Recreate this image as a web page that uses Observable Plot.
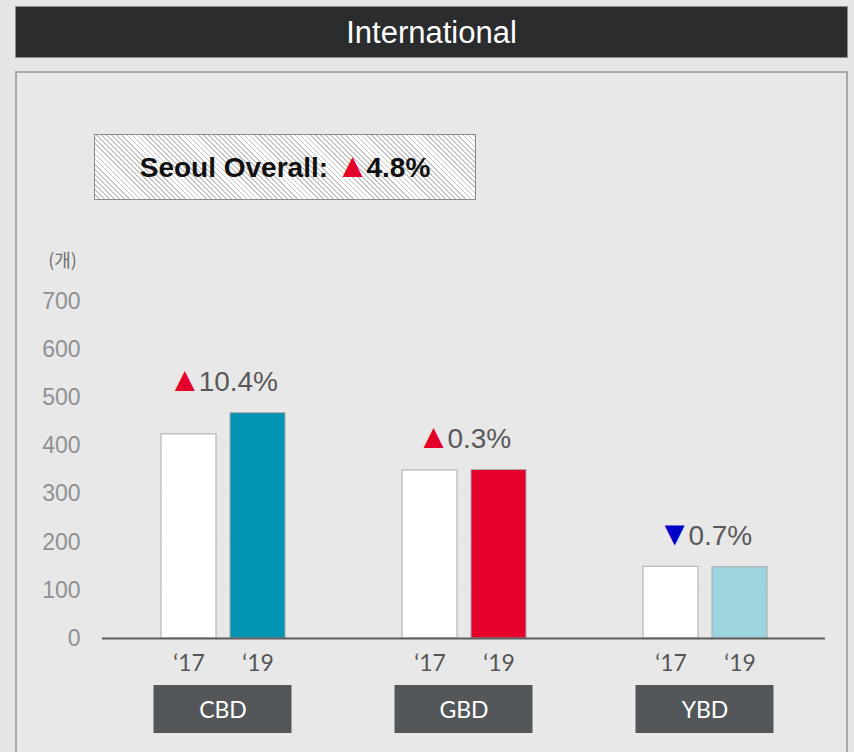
<!DOCTYPE html>
<html>
<head>
<meta charset="utf-8">
<script src="https://cdn.jsdelivr.net/npm/d3@7"></script>
<script src="https://cdn.jsdelivr.net/npm/@observablehq/plot@0.6"></script>
<style>
  html, body { margin: 0; padding: 0; }
  body { width: 854px; height: 752px; background: #e6e6e6; position: relative; overflow: hidden;
         font-family: "Liberation Sans", Arial, sans-serif; }
  #titlebar { position: absolute; left: 15px; top: 6px; width: 831px; height: 50px; background: #2b2c2e;
              border: 1px solid #8c8c8c; color: #fff; font-size: 31px; text-align: center; line-height: 52px; }
  #panel { position: absolute; left: 15px; top: 71px; width: 829px; height: 700px; background: #e8e8e8;
           border: 2px solid #a8a8a8; }
  #overall { position: absolute; left: 94px; top: 134px; width: 380px; height: 64px; border: 1px solid #8a8a8a;
             background: repeating-linear-gradient(45deg, #ffffff 0px, #ffffff 2.4px, #c6c6c6 2.4px, #c6c6c6 3.6px);
             font-weight: bold; font-size: 28px; text-align: center; line-height: 66px; color: #111; }
  #overall .arrow { font-size: 34px; line-height: 20px; margin-right: -3px; }
  #chart { position: absolute; left: 0; top: 240px; }
</style>
</head>
<body>
<div id="titlebar"></div>
<div id="panel"></div>
<div id="overall"></div>
<div id="chart"></div>
<script>
// ---- data ----
const chartTitle = "International";
const overallLabel = "Seoul Overall:";
const overallChange = "4.8%";
const overallDirection = "up";
const regions = ["CBD", "GBD", "YBD"];
const years = ["17", "19"];
const values17 = [424, 349, 149];
const values19 = [468, 350, 148];
const changeLabels = ["10.4%", "0.3%", "0.7%"];
const changeDirections = ["up", "up", "down"];
const yTicks = [0, 100, 200, 300, 400, 500, 600, 700];
const unitLabel = "(개)";

// ---- styles ----
const color19 = { CBD: "#0093b3", GBD: "#e4002b", YBD: "#9dd4df" };
const arrowColor = { up: "#e4002b", down: "#0000c8" };
const arrowGlyph = { up: "\u25B2", down: "\u25BC" };
const yearPrefix = "\u2018";

document.getElementById("titlebar").textContent = chartTitle;
document.getElementById("overall").innerHTML =
  overallLabel + ' <span class="arrow" style="color:' + arrowColor[overallDirection] + '">' +
  arrowGlyph[overallDirection] + '</span>' + overallChange;

const rows = regions.flatMap((r, i) => [
  { region: r, year: years[0], value: values17[i] },
  { region: r, year: years[1], value: values19[i] }
]);
const groups = regions.map((r, i) => ({
  region: r,
  top: Math.max(values17[i], values19[i]),
  label: arrowGlyph[changeDirections[i]] + changeLabels[i]
}));

const W = 854, H = 512, mL = 101, mR = 29, mT = 61, mB = 114;

const chart = Plot.plot({
  width: W, height: H,
  marginLeft: mL, marginRight: mR, marginTop: mT, marginBottom: mB,
  style: { background: "transparent", fontFamily: "'Liberation Sans', Arial, sans-serif", overflow: "visible" },
  fx: { domain: regions, padding: 0, label: null },
  x: { domain: years, paddingInner: 0.21, paddingOuter: 0.85, label: null },
  y: { domain: [0, 700], label: null },
  marks: [
    Plot.gridY(yTicks, { stroke: "#d2d2d2", strokeOpacity: 0.3 }),
    Plot.barY(rows, {
      fx: "region", x: "year", y: "value",
      fill: d => d.year === years[0] ? "#ffffff" : color19[d.region],
      stroke: "#a9a9a9", strokeWidth: 1
    }),
    Plot.ruleY([0], { stroke: "#5c5d5f", strokeWidth: 2 }),
    Plot.axisY({ ticks: yTicks, tickSize: 0, tickPadding: 22, fontSize: 23, color: "#8e9194", label: null }),
    Plot.axisX({ tickSize: 0, tickPadding: 16, tickFormat: d => yearPrefix + d, fontSize: 23,
                 color: "#555555", label: null }),
    Plot.axisFx({ anchor: "bottom", tickSize: 0, tickPadding: 63, fontSize: 23, color: "#ffffff",
                  label: null }),
    Plot.text(groups, { fx: "region", y: "top", text: "label", dy: -31, fontSize: 28, fill: "#595959",
                        lineAnchor: "middle" }),
    Plot.text([unitLabel], { fx: () => regions[0], text: d => d, frameAnchor: "top-left", dx: -40, dy: -40,
                             fontSize: 18, fill: "#6e6e6e", textAnchor: "middle", lineAnchor: "middle" })
  ]
});
document.getElementById("chart").appendChild(chart);

const svg = d3.select(chart);
// category boxes behind the region labels
const fx = chart.scale("fx");
const boxes = svg.insert("g", ":first-child");
regions.forEach(r => {
  const cx = fx.apply(r) + fx.bandwidth / 2;
  boxes.append("rect")
    .attr("x", cx - 69).attr("width", 138)
    .attr("y", H - mB + 47).attr("height", 48)
    .attr("fill", "#54575a");
});
// per-text styling, identified by content
svg.selectAll("text").each(function () {
  const el = d3.select(this);
  const t = el.text();
  if (t.startsWith(yearPrefix) || regions.includes(t)) {
    el.style("font-family", "Lato, 'Noto Sans', sans-serif");
  } else if (t === unitLabel) {
    el.style("font-family", "'Noto Sans CJK KR', 'Liberation Sans', sans-serif");
  } else if (t.startsWith(arrowGlyph.up) || t.startsWith(arrowGlyph.down)) {
    const glyph = t.charAt(0);
    const dir = glyph === arrowGlyph.up ? "up" : "down";
    el.text(null);
    el.append("tspan").attr("fill", arrowColor[dir]).attr("font-size", 34).text(glyph);
    el.append("tspan").attr("dx", -3).text(t.slice(1));
  }
});
</script>
</body>
</html>
